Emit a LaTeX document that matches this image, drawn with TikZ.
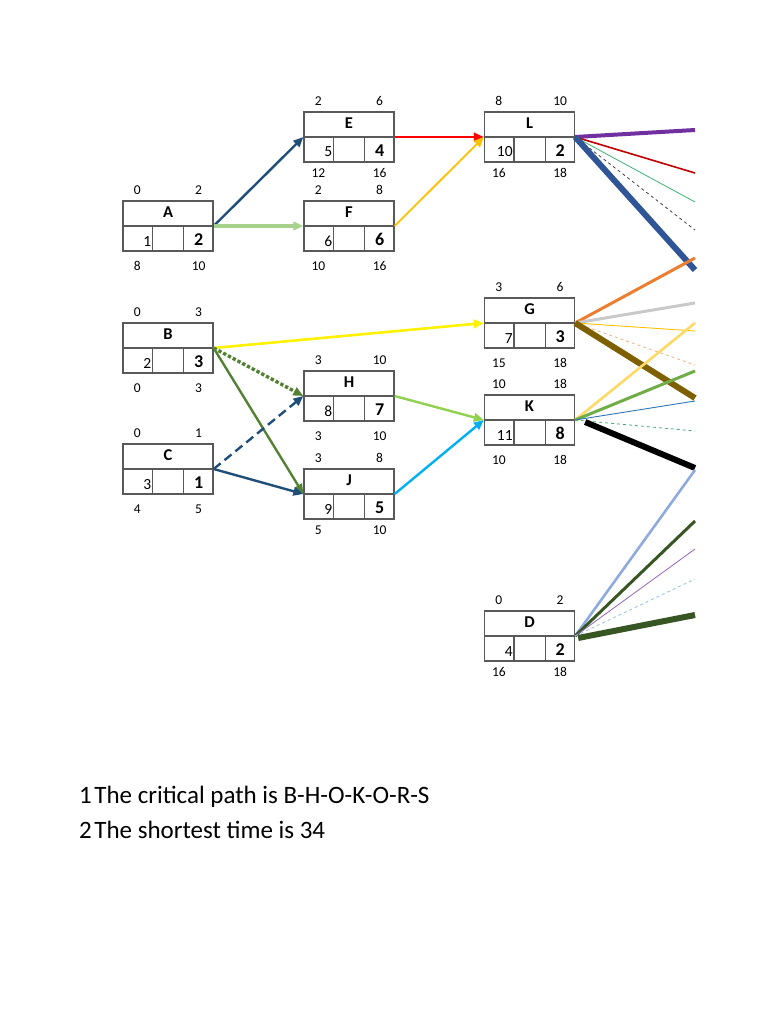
\documentclass[tikz,border=0pt]{standalone}
\usepackage{fontspec}
\setmainfont{Carlito}
\usetikzlibrary{arrows.meta,calc}
\definecolor{BoxGray}{RGB}{89,89,89}
\definecolor{NavyLine}{RGB}{31,78,121}
\definecolor{PaleGreen}{RGB}{169,209,142}
\definecolor{GoldLine}{RGB}{255,192,0}
\definecolor{MossGreen}{RGB}{84,130,53}
\definecolor{LimeLine}{RGB}{146,208,80}
\definecolor{SkyLine}{RGB}{0,176,240}
\definecolor{PurpleLine}{RGB}{112,48,160}
\definecolor{DarkRed}{RGB}{192,0,0}
\definecolor{SeaGreen}{RGB}{60,179,113}
\definecolor{RoyalBlue}{RGB}{47,85,151}
\definecolor{OrangeLine}{RGB}{237,125,49}
\definecolor{SilverLine}{RGB}{201,201,201}
\definecolor{SalmonLine}{RGB}{244,177,131}
\definecolor{BrownLine}{RGB}{127,96,0}
\definecolor{SandLine}{RGB}{255,217,102}
\definecolor{LeafGreen}{RGB}{112,173,71}
\definecolor{SteelBlue}{RGB}{46,117,182}
\definecolor{LightBlue}{RGB}{143,170,220}
\definecolor{ForestGreen}{RGB}{55,86,35}
\definecolor{Mauve}{RGB}{150,100,190}
\definecolor{PaleBlue}{RGB}{157,195,230}
\tikzset{>={Triangle[length=10pt,width=8.5pt]}}
\tikzset{actbox/.style={draw=BoxGray,line width=1.3pt,minimum width=90pt,minimum height=50pt,inner sep=0pt}}
\tikzset{boxline/.style={draw=BoxGray,line width=1.3pt}}
\tikzset{actname/.style={anchor=base,inner sep=0pt,font=\fontsize{16.5}{18}\selectfont\bfseries}}
\tikzset{actdur/.style={anchor=base,inner sep=0pt,font=\fontsize{18}{20}\selectfont\bfseries}}
\tikzset{actcell/.style={anchor=base east,inner sep=0pt,font=\fontsize{15.5}{17}\selectfont}}
\tikzset{actnum/.style={anchor=base,inner sep=0pt,font=\fontsize{13.5}{15}\selectfont}}
\tikzset{link/.style={->,line width=2.4pt}}
\tikzset{lead/.style={line width=#1}}
% gap from the box bottom to the late times
\newcommand{\lowgap}{19pt}
% box: name, centre, letter, cell, duration, ES, EF, LS, LF
\newcommand{\actbox}[9]{%
  \node[actbox] (#1) at (#2) {};
  \draw[boxline] (#1.west) -- (#1.east)
    ([xshift=30pt]#1.west) -- ([xshift=30pt]#1.south west)
    ([xshift=-30pt]#1.east) -- ([xshift=-30pt]#1.south east);
  \node[actname] (#1-name) at ([yshift=8.5pt]#1.center) {#3};
  \node[actcell] (#1-cell) at ([xshift=29pt,yshift=-20pt]#1.west) {#4};
  \node[actdur] (#1-dur) at ([xshift=-15pt,yshift=-19.5pt]#1.east) {#5};
  \node[actnum] (#1-es) at ([xshift=15pt,yshift=6pt]#1.north west) {#6};
  \node[actnum] (#1-ef) at ([xshift=-15pt,yshift=6pt]#1.north east) {#7};
  \node[actnum] (#1-ls) at ([xshift=15pt,yshift=-\lowgap]#1.south west) {#8};
  \node[actnum] (#1-lf) at ([xshift=-15pt,yshift=-\lowgap]#1.south east) {#9};
}

\begin{document}
\begin{tikzpicture}[x=1pt,y=-1pt]
  \useasboundingbox (0,0) rectangle (768,1024);
  \actbox{A}{168,226}{A}{1}{2}{0}{2}{8}{10}
  \actbox{B}{168,348}{B}{2}{3}{0}{3}{0}{3}
  \actbox{C}{168,469}{C}{3}{1}{0}{1}{4}{5}
  \actbox{F}{349,226}{F}{6}{6}{2}{8}{10}{16}
  \actbox{H}{349,396}{H}{8}{7}{3}{10}{3}{10}
  \actbox{G}{529.5,323}{G}{7}{3}{3}{6}{15}{18}
  \actbox{K}{529.5,420}{K}{11}{8}{10}{18}{10}{18}
  \renewcommand{\lowgap}{14.5pt}
  \actbox{E}{349,137}{E}{5}{4}{2}{6}{12}{16}
  \actbox{J}{349,494}{J}{9}{5}{3}{8}{5}{10}
  \actbox{L}{529.5,137}{L}{10}{2}{8}{10}{16}{18}
  \actbox{D}{529.5,636}{D}{4}{2}{0}{2}{16}{18}

  % arrows between activities
  \draw[link,NavyLine] (A.east) -- (E.west);
  \draw[link,PaleGreen,line width=3.6pt] (A.east) -- (F.west);
  \draw[link,red] (E.east) -- (L.west);
  \draw[link,GoldLine,line width=1.8pt] (F.east) -- (L.west);
  \draw[link,yellow,line width=2.6pt] (B.east) -- (G.west);
  \draw[link,MossGreen,line width=3.4pt,dotted] (B.east) -- (H.west);
  \draw[link,MossGreen] (B.east) -- (J.west);
  \draw[link,NavyLine,dashed,dash pattern=on 9pt off 5pt] (C.east) -- (H.west);
  \draw[link,NavyLine] (C.east) -- (J.west);
  \draw[link,LimeLine] (H.east) -- (K.west);
  \draw[link,SkyLine] (J.east) -- (K.west);

  % lines running off the right edge
  \coordinate (L1) at (695,130);
  \coordinate (L2) at (695,173);
  \coordinate (L3) at (695,202);
  \coordinate (L4) at (695,230);
  \coordinate (L5) at (695,270);
  \coordinate (G1) at (695,258);
  \coordinate (G2) at (695,303);
  \coordinate (G3) at (695,331);
  \coordinate (G4) at (695,365);
  \coordinate (G5) at (695,398);
  \coordinate (K1) at (695,323);
  \coordinate (K2) at (695,371);
  \coordinate (K3) at (695,401);
  \coordinate (K4) at (695,431);
  \coordinate (K5) at (695,468);
  \coordinate (D1) at (695,470);
  \coordinate (D2) at (695,521);
  \coordinate (D3) at (695,549);
  \coordinate (D4) at (695,579);
  \coordinate (D5) at (695,615);

  \draw[lead=4pt,PurpleLine] (L.east) -- (L1);
  \draw[lead=1.6pt,DarkRed] (L.east) -- (L2);
  \draw[lead=0.8pt,SeaGreen] (L.east) -- (L3);
  \draw[lead=0.8pt,black!75,dashed] (L.east) -- (L4);
  \draw[lead=6pt,RoyalBlue] (L.east) -- (L5);

  \draw[lead=3pt,OrangeLine] (G.east) -- (G1);
  \draw[lead=3pt,SilverLine] (G.east) -- (G2);
  \draw[lead=0.9pt,GoldLine] (G.east) -- (G3);
  \draw[lead=0.8pt,SalmonLine,dashed] (G.east) -- (G4);
  \draw[lead=6pt,BrownLine] (G.east) -- (G5);

  \draw[lead=2.6pt,SandLine] (K.east) -- (K1);
  \draw[lead=3pt,LeafGreen] (K.east) -- (K2);
  \draw[lead=0.9pt,SteelBlue] (K.east) -- (K3);
  \draw[lead=0.8pt,SeaGreen,dashed] (K.east) -- (K4);
  \draw[lead=6pt,black] ([shift={(10pt,-2pt)}]K.east) -- (K5);

  \draw[lead=2.6pt,LightBlue] (D.east) -- (D1);
  \draw[lead=3pt,ForestGreen] (D.east) -- (D2);
  \draw[lead=0.8pt,Mauve] (D.east) -- (D3);
  \draw[lead=0.9pt,PaleBlue,dashed] (D.east) -- (D4);
  \draw[lead=6pt,ForestGreen] ([shift={(3pt,-2pt)}]D.east) -- (D5);

  % answers
  \node[anchor=base west,inner sep=0pt,font=\fontsize{25}{29}\selectfont] (answer1) at (79,803) {1\hspace{2.5pt}The critical path is B-H-O-K-O-R-S};
  \node[anchor=base west,inner sep=0pt,font=\fontsize{25}{29}\selectfont] (answer2) at (79,838) {2\hspace{2.5pt}The shortest time is 34};
\end{tikzpicture}
\end{document}
